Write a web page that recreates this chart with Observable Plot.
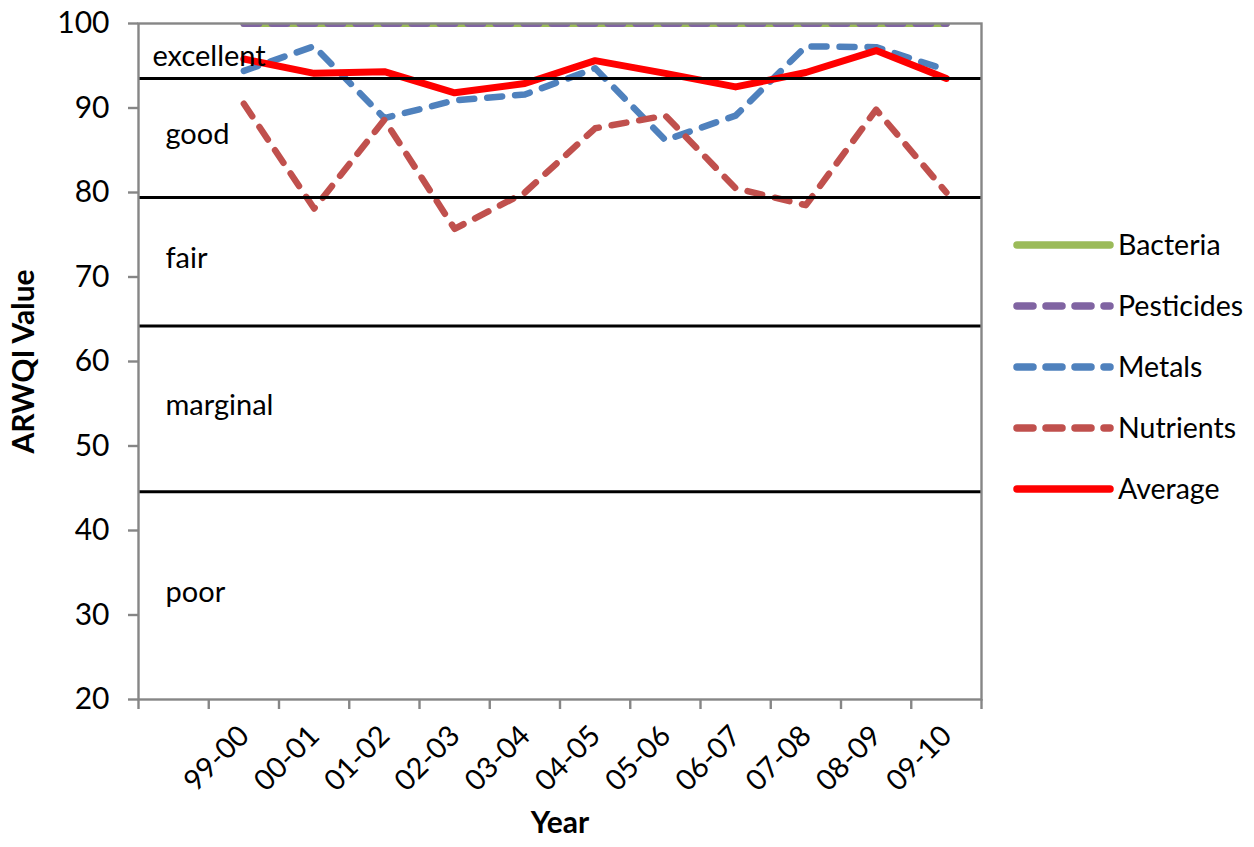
<!DOCTYPE html>
<html>
<head>
<meta charset="utf-8">
<script src="https://cdn.jsdelivr.net/npm/d3@7"></script>
<script src="https://cdn.jsdelivr.net/npm/@observablehq/plot@0.6"></script>
<style>
  body { margin: 0; background: #fff; }
  #chart { position: relative; width: 1254px; height: 847px; font-family: Lato, "Noto Sans", sans-serif; color: #000; }
  #chart svg { font-family: Lato, "Noto Sans", sans-serif; }
  #legend { position: absolute; left: 0; top: 0; }
</style>
</head>
<body>
<div id="chart"></div>
<script>
// Water-year categories (first slot on the axis is left empty for the band labels)
const years = ["99-00", "00-01", "01-02", "02-03", "03-04", "04-05", "05-06", "06-07", "07-08", "08-09", "09-10"];

// ARWQI index values per water year
const bacteria   = [100, 100, 100, 100, 100, 100, 100, 100, 100, 100, 100];
const pesticides = [100, 100, 100, 100, 100, 100, 100, 100, 100, 100, 100];
const metals     = [94.4, 97.3, 88.8, 90.9, 91.6, 94.7, 86.2, 89.1, 97.3, 97.2, 94.5];
const nutrients  = [90.5, 78.1, 88.6, 75.7, 80.0, 87.6, 89.1, 80.5, 78.5, 89.8, 80.0];
const average    = [95.8, 94.1, 94.3, 91.8, 92.9, 95.6, 94.1, 92.5, 94.2, 96.8, 93.5];

// Quality classes and the limits between them
const bandNames  = ["excellent", "good", "fair", "marginal", "poor"];
const bandLimits = [93.5, 79.4, 64.2, 44.6];

// Axis ticks
const yTicks = [20, 30, 40, 50, 60, 70, 80, 90, 100];
const yDomain = [20, 100];
const slotCount = years.length + 1;

const series = [
  {name: "Bacteria",   values: bacteria,   color: "#9BBB59", dash: null,    width: 7},
  {name: "Pesticides", values: pesticides, color: "#8064A2", dash: "15,13", width: 7},
  {name: "Metals",     values: metals,     color: "#4F81BD", dash: "15,13", width: 6.5},
  {name: "Nutrients",  values: nutrients,  color: "#C0504D", dash: "15,13", width: 6.5},
  {name: "Average",    values: average,    color: "#FF0000", dash: null,    width: 7}
];

// long table: one row per series and year; year i sits in slot i+1 (centre at +0.5)
const rows = series.flatMap(s => s.values.map((v, i) => ({series: s.name, year: years[i], pos: i + 1.5, value: v})));

const edges = [yDomain[1], ...bandLimits, yDomain[0]];
const bands = bandNames.map((name, i) => ({name, mid: (edges[i] + edges[i + 1]) / 2}));

const gray = "#868686";

const plot = Plot.plot({
  width: 1254,
  height: 847,
  marginLeft: 138,
  marginRight: 273,
  marginTop: 23,
  marginBottom: 148,
  style: {fontFamily: "Lato, 'Noto Sans', sans-serif", color: "#000", background: "#fff"},
  x: {type: "linear", domain: [0, slotCount], axis: null},
  y: {domain: yDomain, axis: null},
  marks: [
    ...series.map(s => Plot.line(rows.filter(r => r.series === s.name), {
      x: "pos", y: "value",
      stroke: s.color, strokeWidth: s.width,
      strokeDasharray: s.dash ?? undefined,
      strokeLinecap: "round", strokeLinejoin: "round",
      clip: true
    })),
    Plot.ruleY(bandLimits, {stroke: "#000", strokeWidth: 3}),
    Plot.frame({stroke: gray, strokeWidth: 2.4}),
    Plot.axisY({ticks: yTicks, tickSize: 10, tickPadding: 19, stroke: gray, strokeWidth: 2.4, fill: "#000", fontSize: 30, label: null}),
    Plot.axisX({ticks: d3.range(0, slotCount + 1), tickSize: 10, stroke: gray, strokeWidth: 2.4, tickFormat: () => "", label: null}),
    Plot.text(years, {x: (d, i) => i + 1.5, frameAnchor: "bottom", text: d => d, rotate: -45, textAnchor: "end", dx: 7, dy: 38, fontSize: 29, fill: "#000"}),
    Plot.text(bands.filter(b => b.name === "excellent"), {x: 0, y: "mid", text: "name", textAnchor: "start", dx: 14, dy: 6, fontSize: 29, fill: "#000"}),
    Plot.text(bands.filter(b => b.name !== "excellent"), {x: 0, y: "mid", text: "name", textAnchor: "start", dx: 27, dy: -3, fontSize: 29, fill: "#000"}),
    Plot.text(["ARWQI Value"], {frameAnchor: "left", text: d => d, rotate: -90, textAnchor: "middle", dx: -114, fontSize: 30, fontWeight: "bold", fill: "#000"}),
    Plot.text(["Year"], {frameAnchor: "bottom", text: d => d, dy: 133, fontSize: 30, fontWeight: "bold", fill: "#000"})
  ]
});

const chart = document.getElementById("chart");
chart.appendChild(plot);

// legend to the right of the plot area
const legend = d3.select(chart).append("svg")
  .attr("id", "legend")
  .attr("width", 1254).attr("height", 847)
  .style("pointer-events", "none");
const item = legend.selectAll("g").data(series).join("g")
  .attr("transform", (d, i) => `translate(1017,${245 + i * 61})`);
item.append("line")
  .attr("x1", 0).attr("x2", 93).attr("y1", 0).attr("y2", 0)
  .attr("stroke", d => d.color).attr("stroke-width", 7.5)
  .attr("stroke-linecap", "round")
  .attr("stroke-dasharray", d => d.dash ? "16,13" : null);
item.append("text")
  .attr("x", 101).attr("y", 0).attr("dy", "0.35em")
  .attr("font-size", 28.5).attr("fill", "#000")
  .text(d => d.name);
</script>
</body>
</html>
